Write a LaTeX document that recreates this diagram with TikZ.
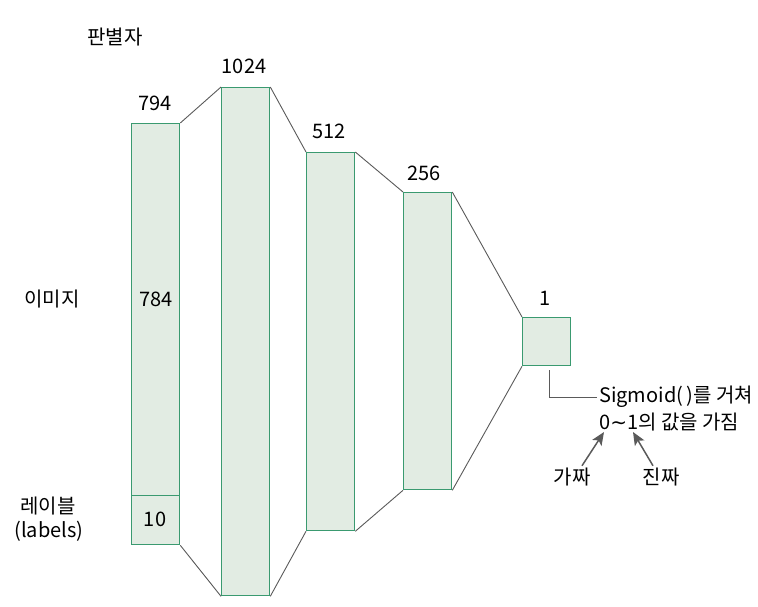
\documentclass[tikz,border=0pt]{standalone}
\usepackage{fontspec}
\setmainfont{Noto Sans CJK KR}
\newfontfamily\symfont{DejaVu Sans}
\usetikzlibrary{arrows.meta}
\usetikzlibrary{calc}
\definecolor{layerfill}{HTML}{E2ECE3}
\definecolor{layerline}{HTML}{3A9A70}
\definecolor{wire}{HTML}{5A5A5A}
\tikzset{
  layer/.style={draw=layerline, fill=layerfill, line width=1.3pt, minimum width=48pt, inner sep=0pt, anchor=north west},
  link/.style={draw=wire, line width=0.9pt},
  pointer/.style={draw=wire, line width=1.5pt, -{Stealth[length=13pt, width=11pt, inset=3pt]}},
  txt/.style={font=\fontsize{20pt}{24pt}\selectfont, inner sep=2pt}
}

\begin{document}
\begin{tikzpicture}[x=1pt, y=-1pt]
\useasboundingbox (0,0) rectangle (758,606);
% the layers
\node[layer, minimum height=421pt] (b1) at (131,123) {};
\node[layer, minimum height=49pt, anchor=south west] (lab) at (b1.south west) {};
\node[layer, minimum height=508pt] (b2) at (221,87) {};
\node[layer, minimum height=378pt] (b3) at (306,152) {};
\node[layer, minimum height=297pt] (b4) at (403,192) {};
\node[layer, minimum height=48pt] (b5) at (522,317) {};
% sizes
\node[txt] (n1) at (155,103) {794};
\node[txt] (n2) at (244,66) {1024};
\node[txt] (n3) at (329,131) {512};
\node[txt] (n4) at (424,173) {256};
\node[txt] (n5) at (545,298) {1};
\node[txt] (img) at (156,299) {784};
\node[txt] (ten) at (155,519) {10};
% the links
\draw[link] (b1.north east) -- (b2.north west);
\draw[link] (lab.south east) -- (b2.south west);
\draw[link] (b2.north east) -- (b3.north west);
\draw[link] (b2.south east) -- (b3.south west);
\draw[link] (b3.north east) -- (b4.north west);
\draw[link] (b3.south east) -- (b4.south west);
\draw[link] (b4.north east) -- (b5.north west);
\draw[link] (b4.south east) -- (b5.south west);
% labels on the left
\node[txt] (disc) at (115,37) {판별자};
\node[txt] (imgl) at (52,299) {이미지};
\node[txt] (labl) at (48,506) {레이블};
\node[txt] (labe) at (49,531) {(labels)};
% output
\node[txt, anchor=west] (sig1) at (597,397) {Sigmoid(\,)를 거쳐};
\node[txt, anchor=west] (sig2) at (597,422) {0{\symfont∼}1의 값을 가짐};
\coordinate (s1) at (549,370);
\draw[link] (s1) |- (sig1.west);
\node[txt] (fake) at (572,477) {가짜};
\node[txt] (real) at (661,477) {진짜};
\coordinate (t1) at (604,432);
\coordinate (t2) at (633,432);
\draw[pointer] (fake.north) ++(10,0) -- (t1);
\draw[pointer] (real.north) ++(-8,0) -- (t2);
\end{tikzpicture}
\end{document}
